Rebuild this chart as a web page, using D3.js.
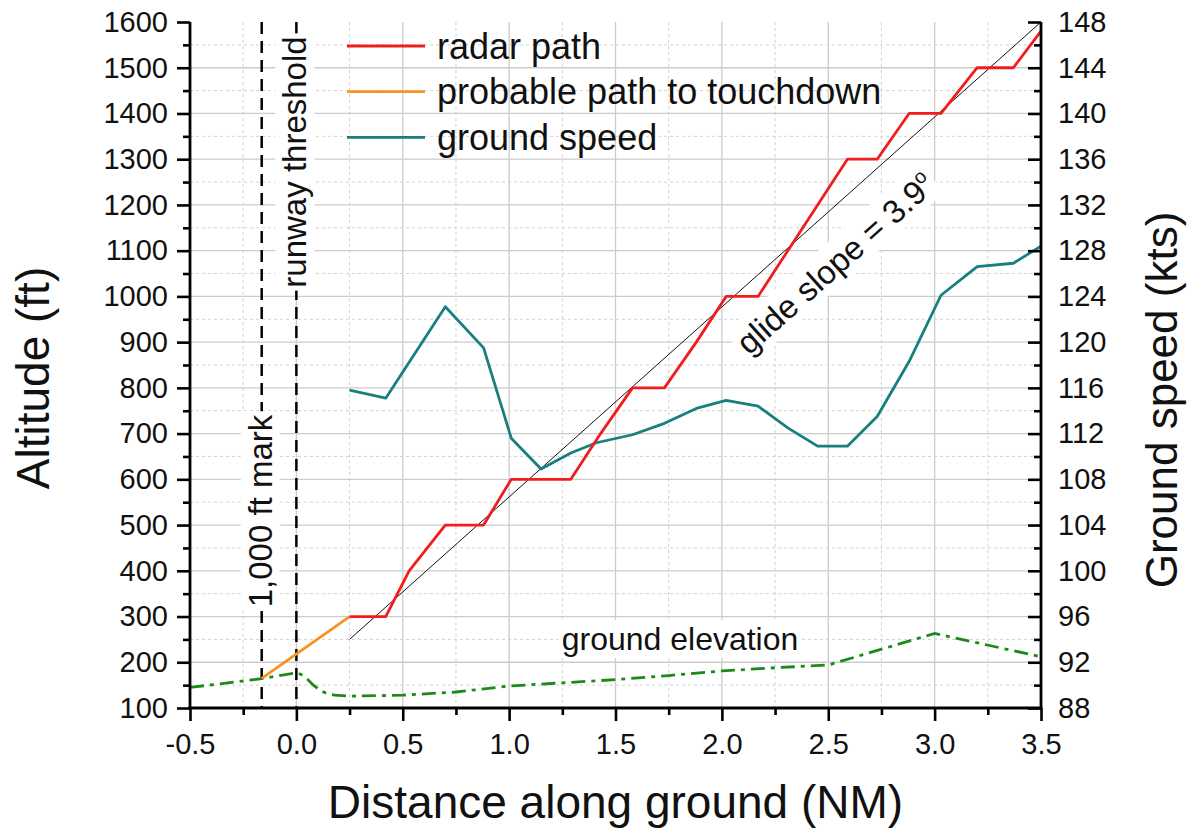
<!DOCTYPE html>
<html>
<head>
<meta charset="utf-8">
<script src="https://cdn.jsdelivr.net/npm/d3@7"></script>
<style>
  body { margin: 0; background: #fff; }
  svg { font-family: "Liberation Sans", Arial, sans-serif; }
</style>
</head>
<body>
<svg id="chart" width="1196" height="833"></svg>
<script>
// radar track (left axis, ft)
const radarDist = [0.25, 0.42, 0.53, 0.70, 0.88, 1.01, 1.15, 1.29, 1.43, 1.58, 1.73, 1.88, 2.02, 2.17, 2.31, 2.45, 2.59, 2.73, 2.88, 3.03, 3.20, 3.37, 3.50];
const radarAlt = [300, 300, 400, 500, 500, 600, 600, 600, 700, 800, 800, 900, 1000, 1000, 1100, 1200, 1300, 1300, 1400, 1400, 1500, 1500, 1580];

// probable path to touchdown
const probDist = [-0.163, 0.25];
const probAlt = [165, 300];

// ground speed (right axis, kts)
const speedDist = [0.25, 0.42, 0.70, 0.88, 1.01, 1.15, 1.29, 1.41, 1.58, 1.73, 1.88, 2.02, 2.17, 2.31, 2.45, 2.59, 2.73, 2.88, 3.03, 3.20, 3.37, 3.50];
const speedKts = [115.8, 115.1, 123.1, 119.5, 111.6, 108.9, 110.3, 111.2, 111.9, 112.9, 114.2, 114.9, 114.4, 112.5, 110.9, 110.9, 113.5, 118.3, 124.1, 126.6, 126.9, 128.4];

// ground elevation (ft)
const elevDist = [-0.5, -0.163, 0.0, 0.02, 0.05, 0.08, 0.11, 0.14, 0.18, 0.25, 0.5, 0.75, 1.0, 1.25, 1.5, 1.75, 2.0, 2.25, 2.5, 3.0, 3.5];
const elevAlt = [145, 164, 177, 174, 164, 150, 139, 132, 128, 126, 128, 135, 148, 155, 162, 171, 181, 188, 194, 263, 212];

// glide slope line
const glideDist = [0.25, 3.5];
const glideAlt = [250, 1600];

// reference marks
const markDist = [-0.163, 0.0];
const markLabels = ['1,000 ft mark', 'runway threshold'];

const xTicks = [-0.5, 0.0, 0.5, 1.0, 1.5, 2.0, 2.5, 3.0, 3.5];
const xMinor = [-0.25, 0.25, 0.75, 1.25, 1.75, 2.25, 2.75, 3.25];
const yLTicks = d3.range(100, 1601, 100);
const yLMinor = d3.range(150, 1600, 100);
const yRTicks = d3.range(88, 149, 4);
const yRMinor = d3.range(90, 148, 4);

const legendNames = ['radar path', 'probable path to touchdown', 'ground speed'];
const legendColors = ['#f21c1c', '#f7931e', '#17807e'];

var margin = {top: 22, right: 155, bottom: 125, left: 190};
var width = 1196, height = 833;
var plotW = width - margin.left - margin.right,
    plotH = height - margin.top - margin.bottom;

var svg = d3.select('#chart');

var x = d3.scaleLinear().domain([-0.5, 3.5]).range([margin.left, margin.left + plotW]);
var yL = d3.scaleLinear().domain([100, 1600]).range([margin.top + plotH, margin.top]);
var yR = d3.scaleLinear().domain([88, 148]).range([margin.top + plotH, margin.top]);

var x0 = margin.left, x1 = margin.left + plotW, yTop = margin.top, yBot = margin.top + plotH;

// grid
var grid = svg.append('g');
grid.selectAll('.gx').data(xTicks.slice(1, -1)).enter().append('line')
  .attr('x1', d => x(d)).attr('x2', d => x(d)).attr('y1', yTop).attr('y2', yBot)
  .attr('stroke', '#cccccc').attr('stroke-width', 1.3);
grid.selectAll('.gxm').data(xMinor).enter().append('line')
  .attr('x1', d => x(d)).attr('x2', d => x(d)).attr('y1', yTop).attr('y2', yBot)
  .attr('stroke', '#d2d2d2').attr('stroke-width', 1).attr('stroke-dasharray', '3,3');
grid.selectAll('.gy').data(yLTicks.slice(1, -1)).enter().append('line')
  .attr('x1', x0).attr('x2', x1).attr('y1', d => yL(d)).attr('y2', d => yL(d))
  .attr('stroke', '#cccccc').attr('stroke-width', 1.3);
grid.selectAll('.gym').data(yLMinor).enter().append('line')
  .attr('x1', x0).attr('x2', x1).attr('y1', d => yL(d)).attr('y2', d => yL(d))
  .attr('stroke', '#d2d2d2').attr('stroke-width', 1).attr('stroke-dasharray', '3,3');

// white-backed label helper
function boxedText(tx, ty, angle, str, size, sup) {
  var g = svg.append('g').attr('transform', 'translate(' + tx + ',' + ty + ') rotate(' + angle + ')');
  var rect = g.append('rect').attr('fill', '#fff');
  var t = g.append('text').attr('text-anchor', 'middle').attr('font-size', size).attr('fill', '#111').text(str);
  if (sup) {
    t.append('tspan').attr('dy', -size * 0.4).attr('font-size', size * 0.6).text(sup);
  }
  var bb = t.node().getBBox();
  rect.attr('x', bb.x - 3).attr('y', bb.y - 1).attr('width', bb.width + 6).attr('height', bb.height + 2);
  return g;
}

// vertical dashed reference lines
svg.selectAll('.mark').data(markDist).enter().append('line')
  .attr('x1', d => x(d)).attr('x2', d => x(d)).attr('y1', yTop).attr('y2', yBot)
  .attr('stroke', '#000').attr('stroke-width', 2.5).attr('stroke-dasharray', '12,7');

boxedText(x(markDist[0]) + 10, 511, -90, markLabels[0], 33);
boxedText(x(markDist[1]) + 10, 162, -90, markLabels[1], 33);

var lineL = d3.line().x(d => x(d[0])).y(d => yL(d[1]));
var lineR = d3.line().x(d => x(d[0])).y(d => yR(d[1]));

// ground elevation
svg.append('path').datum(d3.zip(elevDist, elevAlt))
  .attr('d', lineL)
  .attr('fill', 'none').attr('stroke', '#1b8a1b').attr('stroke-width', 2.8)
  .attr('stroke-dasharray', '14,6,4,6');

boxedText(680, 650, 0, 'ground elevation', 32);

// glide slope
svg.append('path').datum(d3.zip(glideDist, glideAlt))
  .attr('d', lineL).attr('fill', 'none').attr('stroke', '#111').attr('stroke-width', 1);

var ang = Math.atan2(yL(glideAlt[0]) - yL(glideAlt[1]), x(glideDist[1]) - x(glideDist[0])) * 180 / Math.PI;
boxedText(843, 272, -ang, 'glide slope = 3.9', 33, 'o');

// ground speed
svg.append('path').datum(d3.zip(speedDist, speedKts))
  .attr('d', lineR).attr('fill', 'none').attr('stroke', legendColors[2]).attr('stroke-width', 2.8)
  .attr('stroke-linejoin', 'round');

// probable path
svg.append('path').datum(d3.zip(probDist, probAlt))
  .attr('d', lineL).attr('fill', 'none').attr('stroke', legendColors[1]).attr('stroke-width', 2.8);

// radar path
svg.append('path').datum(d3.zip(radarDist, radarAlt))
  .attr('d', lineL).attr('fill', 'none').attr('stroke', legendColors[0]).attr('stroke-width', 2.8)
  .attr('stroke-linejoin', 'round');

// axes
var fmtX = d => d.toFixed(1);
var fmtY = d => String(d);
svg.append('g').attr('transform', 'translate(0,' + yBot + ')')
  .call(d3.axisBottom(x).tickValues(xTicks).tickFormat(fmtX).tickSize(13).tickPadding(12));
svg.append('g').attr('transform', 'translate(0,' + yBot + ')')
  .call(d3.axisBottom(x).tickValues(xMinor).tickFormat('').tickSize(7));
svg.append('g').attr('transform', 'translate(' + x0 + ',0)')
  .call(d3.axisLeft(yL).tickValues(yLTicks).tickFormat(fmtY).tickSize(13).tickPadding(9));
svg.append('g').attr('transform', 'translate(' + x0 + ',0)')
  .call(d3.axisLeft(yL).tickValues(yLMinor).tickFormat('').tickSize(7));
svg.append('g').attr('transform', 'translate(' + x1 + ',0)')
  .call(d3.axisRight(yR).tickValues(yRTicks).tickFormat(fmtY).tickSizeInner(-13).tickSizeOuter(0).tickPadding(17));
svg.append('g').attr('transform', 'translate(' + x1 + ',0)')
  .call(d3.axisRight(yR).tickValues(yRMinor).tickFormat('').tickSizeInner(-7).tickSizeOuter(0));

svg.selectAll('.domain').remove();
svg.selectAll('.tick line').attr('stroke', '#000').attr('stroke-width', 2.6);
svg.selectAll('.tick text').attr('font-size', 29).attr('fill', '#111')
  .attr('font-family', '"Liberation Sans", Arial, sans-serif');

svg.append('line').attr('x1', x0).attr('x2', x0).attr('y1', yTop).attr('y2', yBot + 1.3)
  .attr('stroke', '#000').attr('stroke-width', 2.8);
svg.append('line').attr('x1', x1).attr('x2', x1).attr('y1', yTop).attr('y2', yBot + 1.3)
  .attr('stroke', '#000').attr('stroke-width', 2.8);
svg.append('line').attr('x1', x0 - 1.3).attr('x2', x1 + 1.3).attr('y1', yBot).attr('y2', yBot)
  .attr('stroke', '#000').attr('stroke-width', 2.8);

// axis titles
svg.append('text').attr('x', (x0 + x1) / 2).attr('y', 818).attr('text-anchor', 'middle')
  .attr('font-size', 46).attr('fill', '#111').text('Distance along ground (NM)');
svg.append('text').attr('transform', 'translate(49,' + 378 + ') rotate(-90)').attr('text-anchor', 'middle')
  .attr('font-size', 46).attr('fill', '#111').text('Altitude (ft)');
svg.append('text').attr('transform', 'translate(1177,' + 400 + ') rotate(-90)').attr('text-anchor', 'middle')
  .attr('font-size', 44).attr('fill', '#111').text('Ground speed (kts)');

// legend
var legend = svg.append('g').attr('transform', 'translate(347,46)');
var li = legend.selectAll('g').data(legendNames).enter().append('g')
  .attr('transform', (d, i) => 'translate(0,' + i * 45.7 + ')');
li.append('line').attr('x1', 0).attr('x2', 78).attr('y1', 0).attr('y2', 0)
  .attr('stroke', (d, i) => legendColors[i]).attr('stroke-width', 2.8);
li.append('text').attr('x', 90).attr('y', 0).attr('dy', '0.35em')
  .attr('font-size', 36).attr('fill', '#111').text(d => d);
</script>
</body>
</html>
